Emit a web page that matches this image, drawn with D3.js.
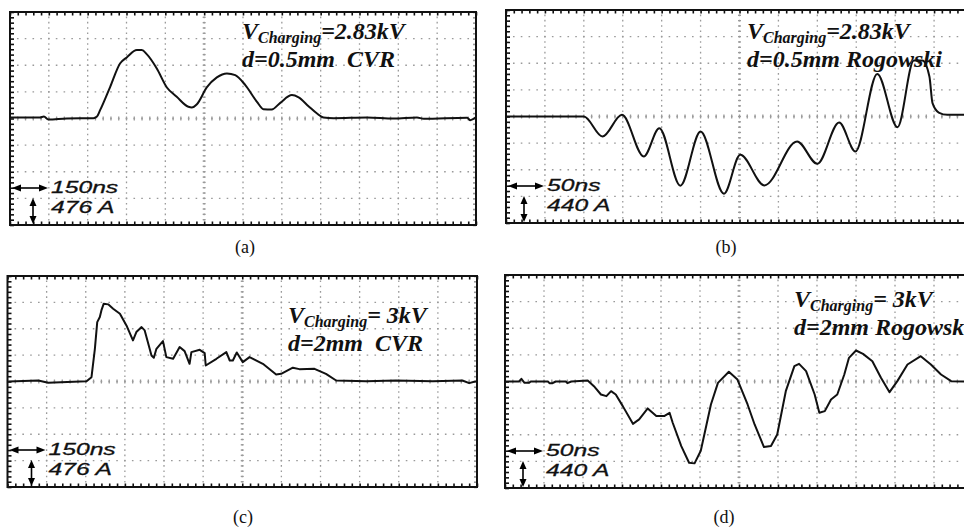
<!DOCTYPE html>
<html>
<head>
<meta charset="utf-8">
<script src="https://cdn.jsdelivr.net/npm/d3@7"></script>
<style>
  body { margin: 0; background: #fff; }
  svg { display: block; }
</style>
</head>
<body>
<div id="scope"></div>
<script>
// (a) d=0.5mm, CVR  -- time in ns, current in A
var timeA = [0,116,131,148,219,322,335,348,387,425,451,490,509,528,567,606,644,689,702,722,760,799,838,870,909,954,979,1011,1044,1089,1115,1153,1186,1211,1250,1379,1482,1572,1598,1766,1778,1798];
var currentA = [18,18,36,-18,0,6,30,149,567,984,1092,1223,1223,1151,895,555,388,209,197,256,555,734,805,775,596,298,167,161,280,418,376,221,89,18,6,18,0,18,-6,12,-30,18];

// (b) d=0.5mm, Rogowski
var timeB = [0,100,124,149,177,197,224,250,280,301,332,374,400,428,449,477,503,524,535,544,548,556,567,589];
var currentB = [0,0,-330,28,-660,-193,-1144,-248,-1276,-633,-1139,-413,-781,-99,-578,704,-176,924,924,660,220,66,28,28];

// (c) d=2mm, CVR
var timeC = [3,118,156,303,322,335,344,354,360,369,386,405,431,456,481,494,514,526,552,561,571,596,609,635,660,679,698,705,737,756,760,801,839,852,864,879,902,928,979,1030,1049,1094,1119,1177,1221,1260,1375,1489,1630,1744,1770,1796];
var currentC = [0,18,-24,6,78,590,1072,1163,1283,1404,1392,1314,1223,1012,741,892,982,922,470,428,590,729,440,410,621,548,319,530,572,512,289,410,530,379,379,524,350,440,319,127,139,249,223,229,139,18,6,18,6,18,-30,6];

// (d) d=2mm, Rogowski
var timeD = [0,18,21,25,31,33,55,57,61,65,78,80,85,106,114,123,130,136,142,151,164,172,183,187,194,204,211,215,226,236,243,251,264,273,287,298,311,320,332,341,349,360,371,377,386,397,403,410,418,426,435,441,450,459,471,482,493,503,516,533,546,559,572,589];
var currentD = [0,0,44,-22,-22,0,0,-28,-28,0,0,-28,0,17,-77,-215,-242,-160,-215,-407,-700,-627,-445,-490,-572,-572,-517,-682,-1067,-1342,-1353,-1144,-380,-22,160,33,-380,-710,-1084,-1067,-875,-160,253,292,171,-215,-517,-490,-297,-215,116,391,512,457,336,61,-176,6,281,418,281,116,6,0];

var nsPerDiv = [150, 50, 150, 50];
var ampPerDiv = [476, 440, 476, 440];
var timeScaleLabels = ['150ns', '50ns', '150ns', '50ns'];
var currentScaleLabels = ['476 A', '440 A', '476 A', '440 A'];
var voltageLabels = ['=2.83kV', '=2.83kV', '= 3kV', '= 3kV'];
// the last one is cut at the picture's right edge in the source figure
var gapLabels = ['d=0.5mm  CVR', 'd=0.5mm Rogowski', 'd=2mm  CVR', 'd=2mm Rogowsk'];
var panelLabels = ['(a)', '(b)', '(c)', '(d)'];

;ScopeRenderer = {

    options: {
        width: 964,
        height: 529,
        cols: 12,
        rows: 8,
        minor: 5,
        frameColor: '#111111',
        gridColor: '#9a9a9a',
        traceColor: '#111111',
        stretch: 1.45,
        frames: [
            {left: 10, top: 12, right: 476, bottom: 225, centerCol: 5, noteX: 242, noteY: 39, captionX: 245, captionY: 253, vArrowDx: 23, smooth: true},
            {left: 506, top: 10, right: 973, bottom: 223, centerCol: 6, noteX: 747, noteY: 39, captionX: 726, captionY: 253, vArrowDx: 18, smooth: true},
            {left: 7.5, top: 276, right: 477, bottom: 487, centerCol: 6, noteX: 288, noteY: 323, captionX: 243, captionY: 523, vArrowDx: 24, smooth: false},
            {left: 505, top: 275, right: 973, bottom: 488, centerCol: 6, noteX: 794, noteY: 307, captionX: 724, captionY: 523, vArrowDx: 18, smooth: false}
        ]
    },

    drawGrid: function(g, f, x, y, tDiv, aDiv) {
        var o = ScopeRenderer.options;
        var minorX = (f.right - f.left) / o.cols / o.minor;
        var minorY = (f.bottom - f.top) / o.rows / o.minor;

        // dotted division lines
        d3.range(1, o.rows).forEach(function(k) {
            var yy = y((o.rows / 2 - k) * aDiv);
            g.append('line')
              .attr('x1', f.left).attr('x2', f.right)
              .attr('y1', yy).attr('y2', yy)
              .attr('stroke', o.gridColor)
              .attr('stroke-width', 1.3)
              .attr('stroke-dasharray', '1.6 ' + (minorX - 1.6))
              .attr('stroke-dashoffset', 0.8);
        });
        d3.range(1, o.cols).forEach(function(k) {
            var xx = x(k * tDiv);
            g.append('line')
              .attr('x1', xx).attr('x2', xx)
              .attr('y1', f.top).attr('y2', f.bottom)
              .attr('stroke', o.gridColor)
              .attr('stroke-width', 1.3)
              .attr('stroke-dasharray', '1.6 ' + (minorY - 1.6))
              .attr('stroke-dashoffset', 0.8);
        });

        // ticks on the centre lines
        var minorTimes = d3.range(0, o.cols * o.minor + 1).map(function(i) { return i * tDiv / o.minor; });
        var minorAmps = d3.range(0, o.rows * o.minor + 1).map(function(i) { return (i - o.rows * o.minor / 2) * aDiv / o.minor; });
        var cy = y(0), cx = x(f.centerCol * tDiv);
        g.append('g').selectAll('line').data(minorTimes).enter().append('line')
          .attr('x1', function(d) { return x(d); }).attr('x2', function(d) { return x(d); })
          .attr('y1', cy - 2).attr('y2', cy + 2)
          .attr('stroke', o.gridColor).attr('stroke-width', 1.3);
        g.append('g').selectAll('line').data(minorAmps).enter().append('line')
          .attr('y1', function(d) { return y(d); }).attr('y2', function(d) { return y(d); })
          .attr('x1', cx - 1.5).attr('x2', cx + 1.5)
          .attr('stroke', o.gridColor).attr('stroke-width', 1.3);

        // border ticks, pointing inward
        var tickAxis = function(axis, values, size) {
            return axis.tickValues(values).tickSize(size).tickFormat('');
        };
        var axes = [
            {t: 'translate(0,' + f.top + ')', a: tickAxis(d3.axisBottom(x), minorTimes, 3.5), c: o.frameColor},
            {t: 'translate(0,' + f.bottom + ')', a: tickAxis(d3.axisTop(x), minorTimes, 3.5), c: o.frameColor},
            {t: 'translate(' + f.left + ',0)', a: tickAxis(d3.axisRight(y), minorAmps, 4), c: o.frameColor},
            {t: 'translate(' + f.right + ',0)', a: tickAxis(d3.axisLeft(y), minorAmps, 3), c: o.gridColor}
        ];
        axes.forEach(function(ax) {
            var ag = g.append('g').attr('transform', ax.t).call(ax.a);
            ag.select('.domain').remove();
            ag.selectAll('line').attr('stroke', ax.c).attr('stroke-width', 1.6);
        });

        g.append('rect')
          .attr('x', f.left).attr('y', f.top)
          .attr('width', f.right - f.left).attr('height', f.bottom - f.top)
          .attr('fill', 'none')
          .attr('stroke', o.frameColor)
          .attr('stroke-width', 2);
    },

    drawTrace: function(g, f, x, y, times, amps) {
        var points = times.map(function(t, i) { return [t, amps[i]]; });
        var line = d3.line()
          .x(function(d) { return x(d[0]); })
          .y(function(d) { return y(d[1]); })
          .curve(f.smooth ? d3.curveMonotoneX : d3.curveLinear);
        g.append('path')
          .attr('d', line(points))
          .attr('fill', 'none')
          .attr('stroke', ScopeRenderer.options.traceColor)
          .attr('stroke-width', 2)
          .attr('stroke-linejoin', 'round');
    },

    arrowHeads: function(g, pts) {
        g.append('path')
          .attr('d', d3.line()(pts) + 'Z')
          .attr('fill', '#000');
    },

    drawScaleMarks: function(g, f, i) {
        var o = ScopeRenderer.options;
        var hy = f.bottom - 37, hx0 = f.left + 2, hx1 = f.left + 38;
        g.append('line').attr('x1', hx0 + 4).attr('x2', hx1 - 4).attr('y1', hy).attr('y2', hy)
          .attr('stroke', '#000').attr('stroke-width', 1.6);
        ScopeRenderer.arrowHeads(g, [[hx0, hy], [hx0 + 9, hy - 3.5], [hx0 + 9, hy + 3.5]]);
        ScopeRenderer.arrowHeads(g, [[hx1, hy], [hx1 - 9, hy - 3.5], [hx1 - 9, hy + 3.5]]);

        var vx = f.left + f.vArrowDx, vy0 = f.bottom - 27, vy1 = f.bottom - 1;
        g.append('line').attr('x1', vx).attr('x2', vx).attr('y1', vy0 + 4).attr('y2', vy1 - 4)
          .attr('stroke', '#000').attr('stroke-width', 1.6);
        ScopeRenderer.arrowHeads(g, [[vx, vy0], [vx - 3.5, vy0 + 8], [vx + 3.5, vy0 + 8]]);
        ScopeRenderer.arrowHeads(g, [[vx, vy1], [vx - 3.5, vy1 - 8], [vx + 3.5, vy1 - 8]]);

        var labels = [
            {text: timeScaleLabels[i], x: hx1 + 3, y: f.bottom - 32},
            {text: currentScaleLabels[i], x: hx1 + 3, y: f.bottom - 12}
        ];
        labels.forEach(function(l) {
            var t = g.append('text')
              .attr('x', l.x).attr('y', l.y)
              .attr('font-family', 'Liberation Sans, Arial, sans-serif')
              .attr('font-style', 'italic')
              .attr('font-size', 17)
              .attr('fill', '#111')
              .attr('stroke', '#111')
              .attr('stroke-width', 0.3)
              .style('white-space', 'pre')
              .text(l.text);
            var w = t.node().getComputedTextLength();
            t.attr('textLength', w * o.stretch).attr('lengthAdjust', 'spacingAndGlyphs');
        });
    },

    drawNotes: function(g, f, i) {
        var note = g.append('text')
          .attr('x', f.noteX).attr('y', f.noteY)
          .attr('font-family', 'Liberation Serif, Times New Roman, serif')
          .attr('font-weight', 'bold')
          .attr('font-style', 'italic')
          .attr('font-size', 24)
          .attr('fill', '#111')
          .style('white-space', 'pre');
        note.append('tspan').text('V');
        note.append('tspan').attr('font-size', 16).attr('dy', 4).text('Charging');
        note.append('tspan').attr('dy', -4).text(voltageLabels[i]);

        g.append('text')
          .attr('x', f.noteX).attr('y', f.noteY + 28)
          .attr('font-family', 'Liberation Serif, Times New Roman, serif')
          .attr('font-weight', 'bold')
          .attr('font-style', 'italic')
          .attr('font-size', 24)
          .attr('fill', '#111')
          .style('white-space', 'pre')
          .text(gapLabels[i]);

        g.append('text')
          .attr('x', f.captionX).attr('y', f.captionY)
          .attr('text-anchor', 'middle')
          .attr('font-family', 'Liberation Serif, Times New Roman, serif')
          .attr('font-size', 18)
          .attr('fill', '#111')
          .text(panelLabels[i]);
    },

    render: function() {
        var o = ScopeRenderer.options;
        var svg = d3.select('#scope').append('svg')
          .attr('width', o.width)
          .attr('height', o.height);
        svg.append('rect').attr('width', o.width).attr('height', o.height).attr('fill', '#fff');

        var traces = [[timeA, currentA], [timeB, currentB], [timeC, currentC], [timeD, currentD]];
        o.frames.forEach(function(f, i) {
            var tDiv = nsPerDiv[i], aDiv = ampPerDiv[i];
            var x = d3.scaleLinear().domain([0, o.cols * tDiv]).range([f.left, f.right]);
            var y = d3.scaleLinear().domain([-o.rows / 2 * aDiv, o.rows / 2 * aDiv]).range([f.bottom, f.top]);
            var g = svg.append('g').attr('class', 'panel');
            ScopeRenderer.drawGrid(g, f, x, y, tDiv, aDiv);
            ScopeRenderer.drawTrace(g, f, x, y, traces[i][0], traces[i][1]);
            ScopeRenderer.drawScaleMarks(g, f, i);
            ScopeRenderer.drawNotes(g, f, i);
        });
    }
};

ScopeRenderer.render();
</script>
</body>
</html>
